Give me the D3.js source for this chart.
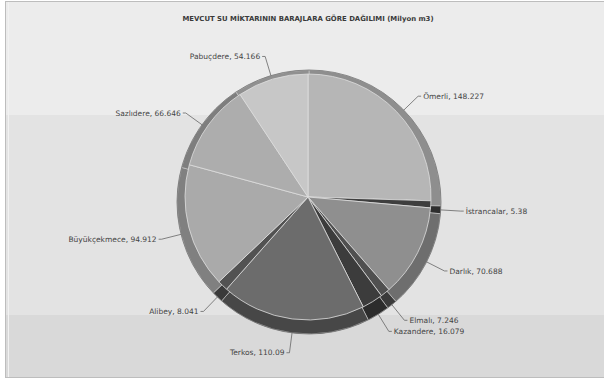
<!DOCTYPE html>
<html><head><meta charset="utf-8">
<script src="https://cdn.jsdelivr.net/npm/d3@7"></script>
<style>html,body{margin:0;padding:0;background:#fff;}svg{display:block;}</style>
</head><body>
<script>
const names = ["Ömerli","İstrancalar","Darlık","Elmalı","Kazandere","Terkos","Alibey","Büyükçekmece","Sazlıdere","Pabuçdere"];
const values = [148.227,5.38,70.688,7.246,16.079,110.09,8.041,94.912,66.646,54.166];
const valueLabels = ["148.227","5.38","70.688","7.246","16.079","110.09","8.041","94.912","66.646","54.166"];
const faceColors = ["#b6b6b6","#3e3e3e","#8f8f8f","#505050","#3c3c3c","#6c6c6c","#525252","#aaaaaa","#adadad","#c7c7c7"];
const rimColors  = ["#8e8e8e","#2e2e2e","#6e6e6e","#3a3a3a","#2c2c2c","#474747","#3a3a3a","#808080","#7e7e7e","#909090"];
const title = "MEVCUT SU MİKTARININ BARAJLARA GÖRE DAĞILIMI (Milyon m3)";

const W = 604, H = 381;
const svg = d3.select("body").append("svg").attr("width", W).attr("height", H);

// background bands
svg.append("rect").attr("x",5).attr("y",1).attr("width",W).attr("height",377).attr("fill","#e3e3e3");
svg.append("rect").attr("x",5).attr("y",1).attr("width",W).attr("height",114).attr("fill","#ececec");
svg.append("rect").attr("x",5).attr("y",315).attr("width",W).attr("height",63).attr("fill","#d9d9d9");
svg.append("rect").attr("x",5.5).attr("y",1.5).attr("width",W).attr("height",376).attr("fill","none").attr("stroke","#bdbdbd");
svg.append("line").attr("x1",8.5).attr("x2",8.5).attr("y1",2).attr("y2",377).attr("stroke","#f2f2f2");

svg.append("text").attr("x",308).attr("y",21).attr("text-anchor","middle")
  .attr("font-family","DejaVu Sans, Verdana, sans-serif").attr("font-weight","bold")
  .attr("font-size","6.9px").attr("fill","#3a3a3a").text(title);

const data = names.map((n,i)=>({name:n, value:values[i], label:valueLabels[i], i}));
const pie = d3.pie().value(d=>d.value).sort(null);
const arcs = pie(data);

const cx = 309, cy = 202, R = 132;
const fx = 308, fy = 197, r = 123;

// rim (3D side)
const gRim = svg.append("g").attr("transform",`translate(${cx},${cy})`);
gRim.selectAll("path").data(arcs).join("path")
  .attr("d", d3.arc().innerRadius(0).outerRadius(R))
  .attr("fill", d=>rimColors[d.data.i])
  .attr("stroke","#d0d0d0").attr("stroke-width",0.6);
gRim.append("circle").attr("r",R).attr("fill","none").attr("stroke","#5a5a5a").attr("stroke-width",1).attr("opacity",0.6);

// top face
const gFace = svg.append("g").attr("transform",`translate(${fx},${fy})`);
gFace.selectAll("path").data(arcs).join("path")
  .attr("d", d3.arc().innerRadius(0).outerRadius(r))
  .attr("fill", d=>faceColors[d.data.i])
  .attr("stroke","#dedede").attr("stroke-width",0.8);

// labels
const gLab = svg.append("g").attr("transform",`translate(${cx},${cy})`);
const lr = 152;
arcs.forEach(d=>{
  const a = (d.startAngle + d.endAngle)/2;
  const x1 = R*Math.sin(a), y1 = -R*Math.cos(a);
  const x2 = lr*Math.sin(a), y2 = -lr*Math.cos(a);
  const right = Math.sin(a) >= 0;
  const x3 = x2 + (right ? 3 : -3);
  gLab.append("polyline")
    .attr("points", `${x1},${y1} ${x2},${y2} ${x3},${y2}`)
    .attr("fill","none").attr("stroke","#666").attr("stroke-width",0.8);
  gLab.append("text")
    .attr("x", x3 + (right ? 2 : -2)).attr("y", y2).attr("dy","0.35em")
    .attr("text-anchor", right ? "start" : "end")
    .attr("font-family","DejaVu Sans, Verdana, sans-serif").attr("font-size","7.5px")
    .attr("fill","#444")
    .text(`${d.data.name}, ${d.data.label}`);
});
</script>
</body></html>
